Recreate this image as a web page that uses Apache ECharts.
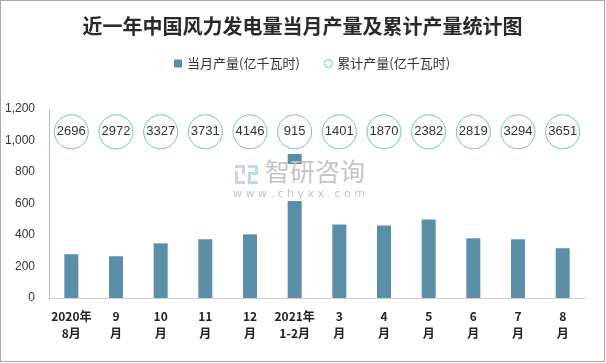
<!DOCTYPE html>
<html><head><meta charset="utf-8">
<script src="https://cdn.jsdelivr.net/npm/echarts@6/dist/echarts.min.js"></script>
<style>
html,body{margin:0;padding:0;background:#fff;}
#c{width:603px;height:360px;border:1px solid #a8a8a8;}
</style></head>
<body><div id="c"></div>
<script>
const categories = ['2020年\n8月','9\n月','10\n月','11\n月','12\n月','2021年\n1-2月','3\n月','4\n月','5\n月','6\n月','7\n月','8\n月'];
const monthly = [278, 265, 347, 373, 404, 915, 467, 461, 499, 379, 373, 316];
const cumulative = [2696, 2972, 3327, 3731, 4146, 915, 1401, 1870, 2382, 2819, 3294, 3651];
const circleLevel = 1055;
const yTicks = [0, 200, 400, 600, 800, 1000, 1200];

const chart = echarts.init(document.getElementById('c'));
chart.setOption({
  backgroundColor: '#fff',
  animation: false,
  title: {
    text: '近一年中国风力发电量当月产量及累计产量统计图',
    left: 'center', top: 10,
    textStyle: {fontFamily: 'Noto Sans CJK SC', fontWeight: 'bold', fontSize: 20, color: '#2a2a2a'}
  },
  legend: {
    top: 51, left: 168, itemGap: 24, itemWidth: 8, itemHeight: 8,
    textStyle: {fontFamily: 'Noto Sans CJK SC', fontSize: 13, color: '#333'},
    data: [
      {name: '当月产量(亿千瓦时)', icon: 'rect'},
      {name: '累计产量(亿千瓦时)', icon: 'circle', itemStyle: {color: '#fff', borderColor: '#6cc8bd', borderWidth: 1}}
    ]
  },
  grid: {left: 48, right: 19, top: 108, bottom: 63},
  xAxis: {
    type: 'category', data: categories,
    axisLine: {lineStyle: {color: '#d0d0d0'}},
    axisTick: {lineStyle: {color: '#d0d0d0'}, length: 5},
    axisLabel: {fontFamily: 'Noto Sans CJK SC', fontWeight: 'bold', fontSize: 12, color: '#222', lineHeight: 17, margin: 10, interval: 0}
  },
  yAxis: {
    type: 'value', min: 0, max: 1200, interval: 200,
    splitLine: {show: false},
    axisLine: {show: true, lineStyle: {color: '#bdbdbd'}},
    axisTick: {show: false},
    axisLabel: {fontFamily: 'Liberation Sans, Arial', fontSize: 12, color: '#333', margin: 14,
      formatter: v => yTicks.indexOf(v) >= 0 ? v.toLocaleString('en-US') : ''}
  },
  series: [
    {
      name: '当月产量(亿千瓦时)', type: 'bar', data: monthly, barWidth: 14,
      itemStyle: {color: '#5b8fa8'}
    },
    {
      name: '累计产量(亿千瓦时)', type: 'scatter',
      data: cumulative.map(v => circleLevel),
      symbolSize: 34, z: 3,
      itemStyle: {color: '#fff', borderColor: '#6cc8bd', borderWidth: 1, opacity: 1},
      label: {show: true, position: 'inside', fontFamily: 'Liberation Sans, Arial', fontSize: 13, color: '#333',
        formatter: p => cumulative[p.dataIndex]}
    }
  ],
  graphic: [
    {type: 'rect', shape: {x: 230, y: 163, width: 148, height: 37}, style: {fill: '#fff'}, z: 10},
    {type: 'rect', shape: {x: 234, y: 164, width: 10, height: 3}, style: {fill: '#c9d6ea'}, z: 11},
    {type: 'rect', shape: {x: 241, y: 164, width: 3, height: 9}, style: {fill: '#c9d6ea'}, z: 11},
    {type: 'rect', shape: {x: 234, y: 170, width: 3, height: 13}, style: {fill: '#c9d6ea'}, z: 11},
    {type: 'rect', shape: {x: 234, y: 180, width: 10, height: 3}, style: {fill: '#c9d6ea'}, z: 11},
    {type: 'rect', shape: {x: 247, y: 164, width: 10, height: 3}, style: {fill: '#bcd9ef'}, z: 11},
    {type: 'rect', shape: {x: 254, y: 164, width: 3, height: 9}, style: {fill: '#bcd9ef'}, z: 11},
    {type: 'rect', shape: {x: 247, y: 171, width: 10, height: 3}, style: {fill: '#bcd9ef'}, z: 11},
    {type: 'rect', shape: {x: 247, y: 171, width: 3, height: 12}, style: {fill: '#bcd9ef'}, z: 11},
    {type: 'rect', shape: {x: 247, y: 180, width: 10, height: 3}, style: {fill: '#bcd9ef'}, z: 11},
    {type: 'text', left: 264, top: 158, z: 11,
      style: {text: '智研咨询', font: '25px "Noto Sans CJK SC"', fill: '#c4c4c4'}},
    {type: 'text', left: 232, top: 188, z: 11,
      style: {text: 'w w w . c h y x x . c o m', font: '11px "DejaVu Sans"', fill: '#c4c4c4'}}
  ]
});
</script></body></html>
